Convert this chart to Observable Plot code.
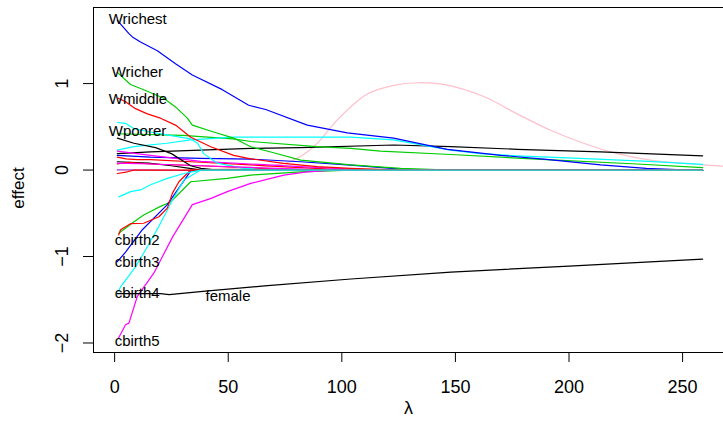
<!DOCTYPE html>
<html>
<head>
<meta charset="utf-8">
<script src="https://cdn.jsdelivr.net/npm/d3@7"></script>
<script src="https://cdn.jsdelivr.net/npm/@observablehq/plot@0.6"></script>
<style>
  html, body { margin: 0; padding: 0; background: #fff; }
  #chart { width: 723px; height: 443px; }
</style>
</head>
<body>
<div id="chart"></div>
<script>
// ---- data: each series is a list of [lambda, effect] pairs ----
const zeroBlue    = [[1.2, 0], [258.8, 0]];
const zeroMagenta = [[1.2, 0.005], [258.8, 0.005]];
const zeroCyan    = [[40, 0], [258.8, 0]];
const wrichest = [[1.2,1.73],[6.2,1.58],[7.8,1.54],[11.4,1.48],[18.8,1.38],[26.8,1.23],[34.2,1.10],[47.4,0.93],[59,0.75],[66.5,0.70],[84.8,0.52],[102.4,0.43],[122.8,0.37],[146.4,0.24],[170,0.17],[190,0.123],[213.9,0.06],[234,0.02],[250,0.003],[258.8,0]];
const wricher = [[1.2,1.13],[7,0.99],[13.6,0.92],[21.6,0.83],[26.8,0.73],[32,0.60],[34.2,0.52],[43.6,0.44],[52.4,0.37],[59.9,0.27],[70,0.20],[81.9,0.115],[103.9,0.06],[125.9,0.02],[148,0],[258.8,0]];
const wmiddle = [[1.6,0.83],[4.8,0.79],[9.2,0.71],[14.4,0.65],[20.2,0.60],[26.8,0.52],[33.5,0.38],[42.3,0.27],[52.4,0.17],[59.9,0.13],[74.4,0.078],[89.2,0.04],[103.9,0.02],[126,0],[258.8,0]];
const cyanTop = [[1.2,0.55],[4.8,0.54],[8.4,0.48],[15.8,0.44],[26.8,0.39],[33.5,0.36],[36.5,0.31],[39.2,0.19],[45.2,0.08],[56.8,0.02],[68.7,0],[258.8,0]];
const cyanLong = [[1.2,0.23],[8.4,0.27],[23,0.31],[33.5,0.35],[52.4,0.38],[103.9,0.38],[122.8,0.35],[147.9,0.23],[161,0.19],[177,0.165],[205,0.135],[235,0.10],[258.8,0.066]];
const greenLong = [[1.2,0.42],[30,0.40],[52,0.36],[60,0.33],[89,0.27],[104,0.25],[117,0.22],[148,0.18],[190,0.12],[230,0.07],[258.8,0.027]];
const blackLong = [[1.2,0.19],[15.8,0.21],[37.9,0.23],[59.9,0.25],[81.9,0.26],[122.8,0.29],[147.9,0.27],[177.2,0.24],[213.9,0.21],[258.8,0.165]];
const blackDown = [[1.2,0.37],[8.5,0.31],[18,0.26],[25,0.19],[31,0.09],[33.5,0.05],[38,0.02],[45,0],[258.8,0]];
const blackSmall = [[1.2,0.096],[15,0.08],[25,0.05],[33,0.02],[38,0],[258.8,0]];
const blueSmall = [[1.2,0.17],[15.8,0.15],[37.9,0.135],[59.9,0.127],[81.9,0.096],[103.9,0.058],[125.9,0.01],[135,0],[258.8,0]];
const magentaA = [[1.2,0.22],[15.8,0.17],[37.9,0.10],[59.9,0.07],[81.9,0.04],[103.9,0.01],[117,0],[258.8,0]];
const magentaB = [[1.2,0.08],[15.8,0.07],[37.9,0.05],[59.9,0.03],[81.9,0.01],[96,0],[258.8,0]];
const redA = [[1.2,0.15],[5,0.13],[10,0.12],[15.8,0.12],[37.9,0.09],[59.9,0.06],[77.5,0.035],[95,0.01],[104,0],[258.8,0]];
const redB = [[1.2,0.07],[6,0.09],[15.8,0.07],[37.9,0.05],[64,0.02],[81.9,0],[258.8,0]];
const redNeg = [[1.2,-0.04],[5.6,-0.02],[8.4,0],[258.8,0]];
const cbirth2 = [[1.8,-0.75],[2.6,-0.69],[7,-0.62],[12.8,-0.615],[19.5,-0.54],[23.2,-0.44],[25.4,-0.27],[28.3,-0.135],[32.7,-0.02],[33.5,0],[258.8,0]];
const greenNeg = [[1.8,-0.73],[8.4,-0.60],[12.8,-0.52],[20.2,-0.42],[24.6,-0.37],[33.5,-0.135],[49.6,-0.096],[59.9,-0.058],[81.9,-0.02],[103.9,0],[258.8,0]];
const cbirth3 = [[1.2,-1.06],[4.8,-0.95],[12.2,-0.69],[23.2,-0.40],[33.5,-0.01],[40,0],[258.8,0]];
const cbirth4 = [[1.8,-1.40],[2.6,-1.35],[9.2,-1.12],[12.8,-0.96],[19.5,-0.65],[25.4,-0.35],[30.5,-0.115],[37.9,0],[258.8,0]];
const cbirth5 = [[1.8,-1.94],[4.8,-1.79],[6.3,-1.77],[10,-1.46],[17.3,-1.19],[25.6,-0.77],[34.2,-0.40],[42.2,-0.33],[49.6,-0.25],[59.9,-0.154],[74.5,-0.058],[84.8,-0.02],[96.4,0],[258.8,0]];
const cyanNeg = [[1.8,-0.31],[7,-0.25],[11.4,-0.23],[15.8,-0.17],[23.2,-0.096],[30.5,-0.04],[37.9,0],[258.8,0]];
const female = [[1.2,-1.43],[20.2,-1.43],[24,-1.44],[40,-1.40],[66,-1.34],[104,-1.26],[148,-1.18],[200,-1.11],[258.8,-1.03]];
const pinkCurve = [[1.2,0],[40,0.01],[67.2,0.04],[77.5,0.10],[87.6,0.27],[98,0.58],[103.9,0.73],[111.2,0.88],[122.8,0.98],[133.2,1.01],[144.8,0.99],[162.4,0.85],[177.2,0.65],[191.9,0.46],[206.4,0.31],[221.3,0.19],[235.9,0.115],[250.4,0.077],[268,0.046],[280,0.03]];

// draw order and colours (R palette names)
const seriesList = [zeroMagenta, zeroBlue, zeroCyan, pinkCurve, blackLong, redA, greenLong, blueSmall, cyanLong, magentaA, blackSmall, redB, greenNeg, cbirth3, cyanTop, magentaB, blackDown, redNeg, wricher, wrichest, cbirth4, cbirth5, female, wmiddle, cbirth2, cyanNeg];
const seriesColors = ["#FF00FF", "#0000FF", "#00FFFF", "#FFC0CB", "#000000", "#FF0000", "#00CD00", "#0000FF", "#00FFFF", "#FF00FF", "#000000", "#FF0000", "#00CD00", "#0000FF", "#00FFFF", "#FF00FF", "#000000", "#FF0000", "#00CD00", "#0000FF", "#00FFFF", "#FF00FF", "#000000", "#FF0000", "#FF0000", "#00FFFF"];

const labelNames = ["Wrichest", "Wricher", "Wmiddle", "Wpoorer", "cbirth2", "cbirth3", "cbirth4", "cbirth5", "female"];
const labelX = [-2.6, -1.3, -2.6, -2.6, 0, 0, 0, 0, 40];
const labelY = [1.74, 1.13, 0.82, 0.45, -0.81, -1.07, -1.42, -1.98, -1.46];

const xTicks = [0, 50, 100, 150, 200, 250];
const yTicks = [-2, -1, 0, 1];
const xTitle = "λ";
const yTitle = "effect";

// ---- chart ----
const font = "'Liberation Sans', Arial, Helvetica, sans-serif";
const lineMarks = seriesList.map((pts, i) =>
  Plot.line(pts, {x: d => d[0], y: d => d[1], stroke: seriesColors[i], strokeWidth: 1.2, clip: true,
    curve: pts === pinkCurve ? "catmull-rom" : "linear"})
);
const labels = labelNames.map((name, i) => ({name, x: labelX[i], y: labelY[i]}));

const chart = Plot.plot({
  width: 723,
  height: 443,
  marginLeft: 93,
  marginRight: 0,
  marginTop: 7,
  marginBottom: 91,
  style: {fontFamily: font, background: "#fff", color: "#000"},
  x: {domain: [-9.3, 268], axis: null},
  y: {domain: [-2.11, 1.88], axis: null},
  marks: [
    ...lineMarks,
    Plot.text(labels, {x: "x", y: "y", text: "name", textAnchor: "start", fontSize: 15, fill: "#000", lineAnchor: "middle"}),
    Plot.frame({stroke: "#000", strokeWidth: 1}),
    Plot.axisX({ticks: xTicks, tickSize: 10, tickFormat: () => "", label: null, stroke: "#000"}),
    Plot.axisY({ticks: yTicks, tickSize: 10, tickFormat: () => "", label: null, stroke: "#000"}),
    Plot.text(xTicks, {x: d => d, text: d => String(d), frameAnchor: "bottom", dy: 35, fontSize: 18, fill: "#000", lineAnchor: "middle"}),
    Plot.text(yTicks, {y: d => d, text: d => (d < 0 ? "\u2212" + Math.abs(d) : String(d)), frameAnchor: "left", dx: -31, rotate: -90, fontSize: 18, fill: "#000", textAnchor: "middle", lineAnchor: "middle"}),
    Plot.text([xTitle], {text: d => d, frameAnchor: "bottom", dy: 56, fontSize: 18, fill: "#000", lineAnchor: "middle"}),
    Plot.text([yTitle], {text: d => d, frameAnchor: "left", dx: -75, dy: 8, rotate: -90, fontSize: 17, fill: "#000", textAnchor: "middle", lineAnchor: "middle"})
  ]
});
document.getElementById("chart").appendChild(chart);
</script>
</body>
</html>
